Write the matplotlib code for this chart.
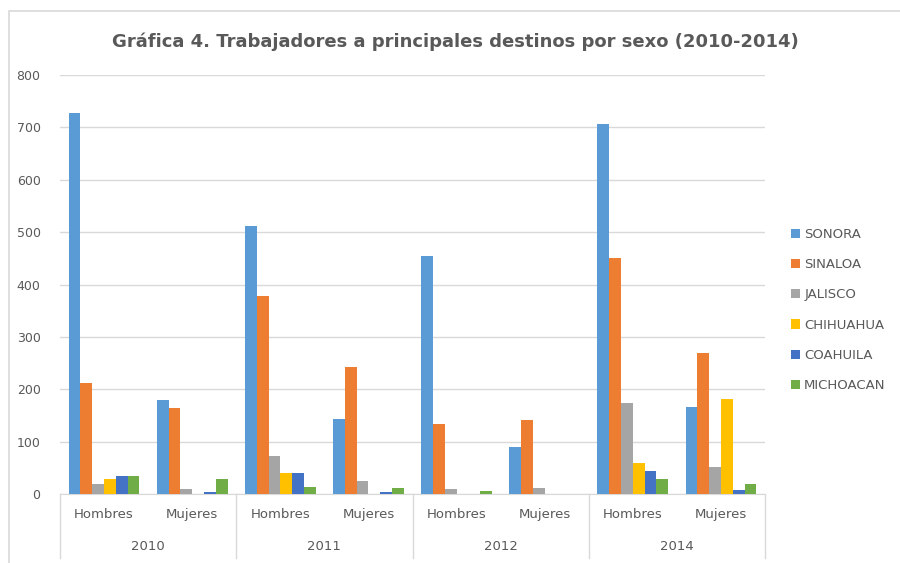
import matplotlib.pyplot as plt
import matplotlib.transforms as mtransforms
import numpy as np

# data
years = ['2010', '2011', '2012', '2014']
sexes = ['Hombres', 'Mujeres']
states = ['SONORA', 'SINALOA', 'JALISCO', 'CHIHUAHUA', 'COAHUILA', 'MICHOACAN']
colors = ['#5B9BD5', '#ED7D31', '#A5A5A5', '#FFC000', '#4472C4', '#70AD47']

# one list per state, order: 2010 H, 2010 M, 2011 H, 2011 M, 2012 H, 2012 M, 2014 H, 2014 M
sonora = [728, 179, 511, 143, 454, 90, 706, 166]
sinaloa = [212, 164, 378, 243, 133, 141, 450, 269]
jalisco = [19, 9, 72, 24, 9, 11, 174, 52]
chihuahua = [29, 0, 41, 0, 0, 0, 59, 181]
coahuila = [34, 3, 41, 3, 0, 0, 44, 8]
michoacan = [34, 29, 13, 11, 5, 0, 29, 19]
series = [sonora, sinaloa, jalisco, chihuahua, coahuila, michoacan]

grey = '#595959'
fig = plt.figure(figsize=(9, 5.63), dpi=100)
ax = fig.add_axes([60 / 900, 69 / 563, 705 / 900, 419 / 563])

# chart border
fig.add_artist(plt.Rectangle((9 / 900, -0.01), 1.0, 1.0 - 11 / 563 + 0.01,
                             transform=fig.transFigure, fill=False,
                             edgecolor='#D9D9D9', lw=1.2))

x = np.arange(len(years) * len(sexes))
w = 0.134
for i, (name, vals) in enumerate(zip(states, series)):
    ax.bar(x + (i - 2.5) * w, vals, w, color=colors[i], label=name, zorder=3)

ax.set_xlim(-0.5, 7.5)
ax.set_ylim(0, 800)
ax.set_yticks(range(0, 801, 100))
ax.yaxis.grid(True, color='#D9D9D9', lw=1, zorder=0)
ax.tick_params(axis='y', length=0, labelsize=9, labelcolor=grey, pad=14)
ax.set_xticks([])
for s in ['top', 'right', 'left']:
    ax.spines[s].set_visible(False)
ax.spines['bottom'].set_color('#D9D9D9')

# two-level category axis
trans = mtransforms.blended_transform_factory(ax.transData, ax.transAxes)
for k in range(len(x)):
    ax.text(x[k], -0.05, sexes[k % 2], transform=trans, ha='center', va='center',
            fontsize=9.5, color=grey)
for j, yr in enumerate(years):
    ax.text(2 * j + 0.5, -0.125, yr, transform=trans, ha='center', va='center',
            fontsize=9.5, color=grey)
for b in [-0.5, 1.5, 3.5, 5.5, 7.5]:
    ax.plot([b, b], [0, -0.153], transform=trans, color='#D9D9D9', lw=1,
            clip_on=False)

fig.text(455 / 900, 1 - 42 / 563, 'Gráfica 4. Trabajadores a principales destinos por sexo (2010-2014)',
         ha='center', va='center', fontsize=13, fontweight='bold', color=grey)

leg = ax.legend(loc='center left', bbox_to_anchor=(1.02, 0.439), frameon=False,
                handlelength=0.7, handleheight=0.7, handletextpad=0.3,
                labelspacing=1.3, fontsize=9.5, labelcolor=grey)

fig.savefig('out.png', dpi=100)
